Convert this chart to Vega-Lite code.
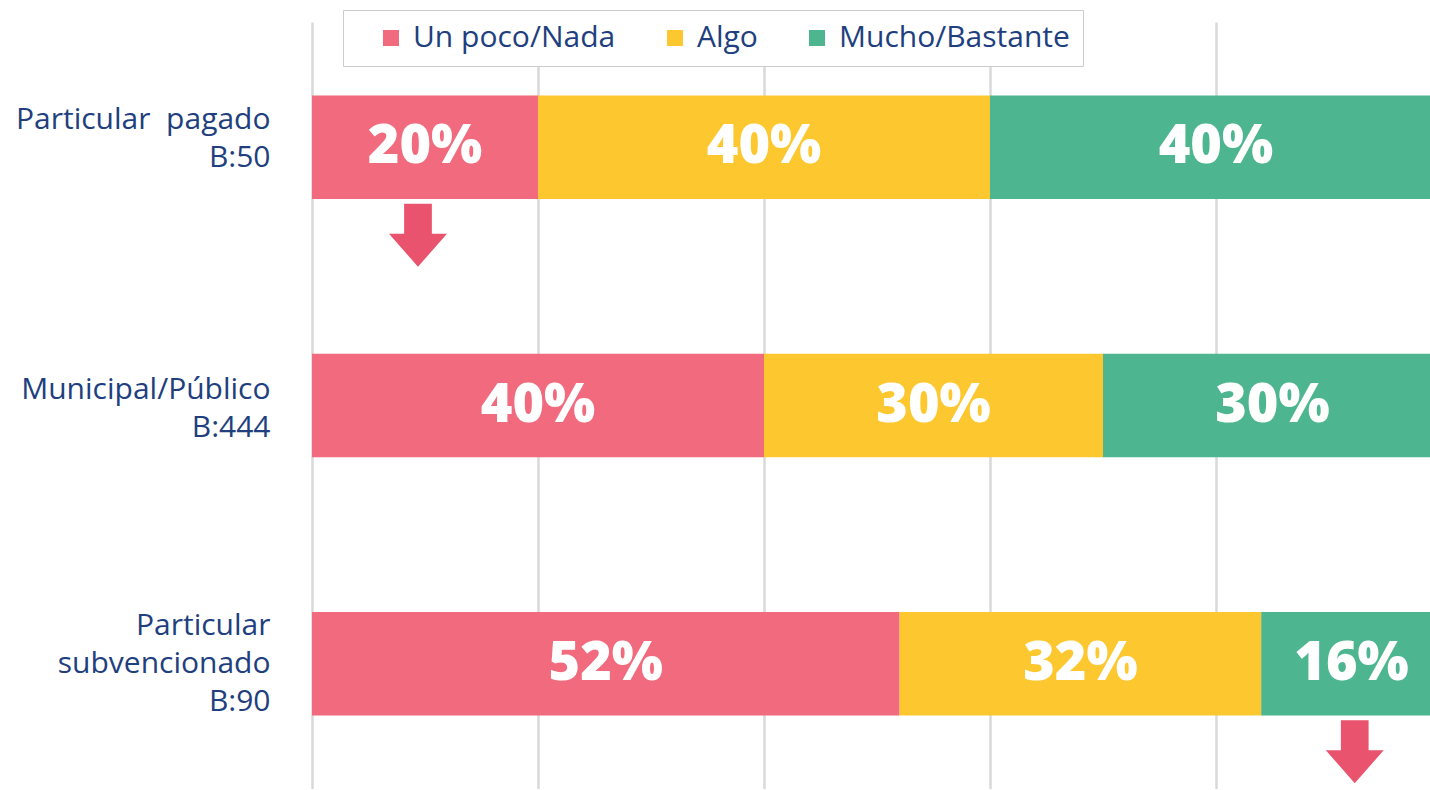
{
  "$schema": "https://vega.github.io/schema/vega-lite/v6.json",
  "width": 1118,
  "height": 767,
  "autosize": {"type": "none"},
  "padding": {"left": 312, "top": 22, "right": 0, "bottom": 0},
  "background": "white",
  "config": {
    "view": {"stroke": null},
    "font": "Open Sans"
  },
  "datasets": {
    "bars": [
      {"cat": "Particular\u00a0 pagado|B:50", "resp": "Un poco/Nada", "o": 1, "value": 0.20},
      {"cat": "Particular\u00a0 pagado|B:50", "resp": "Algo", "o": 2, "value": 0.40},
      {"cat": "Particular\u00a0 pagado|B:50", "resp": "Mucho/Bastante", "o": 3, "value": 0.40},
      {"cat": "Municipal/Público|B:444", "resp": "Un poco/Nada", "o": 1, "value": 0.40},
      {"cat": "Municipal/Público|B:444", "resp": "Algo", "o": 2, "value": 0.30},
      {"cat": "Municipal/Público|B:444", "resp": "Mucho/Bastante", "o": 3, "value": 0.30},
      {"cat": "Particular|subvencionado|B:90", "resp": "Un poco/Nada", "o": 1, "value": 0.52},
      {"cat": "Particular|subvencionado|B:90", "resp": "Algo", "o": 2, "value": 0.32},
      {"cat": "Particular|subvencionado|B:90", "resp": "Mucho/Bastante", "o": 3, "value": 0.16}
    ],
    "arrows": [
      {"cat": "Particular\u00a0 pagado|B:50", "pos": 0.0938},
      {"cat": "Particular|subvencionado|B:90", "pos": 0.9228}
    ]
  },
  "layer": [
    {
      "data": {"name": "bars"},
      "transform": [
        {"stack": "value", "groupby": ["cat"], "sort": [{"field": "o", "order": "ascending"}], "as": ["x0", "x1"]}
      ],
      "mark": {"type": "bar", "clip": true},
      "encoding": {
        "x": {
          "field": "x0", "type": "quantitative",
          "scale": {"domain": [0, 0.9894], "nice": false, "zero": true},
          "axis": {"title": null, "labels": false, "ticks": false, "domain": false, "grid": true, "values": [0, 0.2, 0.4, 0.6, 0.8], "gridColor": "#d9d9d9", "gridWidth": 2.5}
        },
        "x2": {"field": "x1"},
        "y": {
          "field": "cat", "type": "nominal",
          "sort": ["Particular\u00a0 pagado|B:50", "Municipal/Público|B:444", "Particular|subvencionado|B:90"],
          "scale": {"paddingInner": 0.6, "paddingOuter": 0.285},
          "axis": {
            "title": null, "ticks": false, "domain": false, "grid": false,
            "labelExpr": "split(datum.label, '|')",
            "labelFontSize": 30, "labelLineHeight": 38, "labelColor": "#213f7e", "labelPadding": 42, "labelLimit": 400, "labelFont": "Open Sans",
            "labelOffset": {"condition": [
              {"test": "indexof(datum.label, 'subvencionado') >= 0", "value": -38},
              {"test": "indexof(datum.label, 'Municipal') >= 0", "value": -16}
            ], "value": -27}
          }
        },
        "color": {
          "field": "resp", "type": "nominal",
          "scale": {"domain": ["Un poco/Nada", "Algo", "Mucho/Bastante"], "range": ["#f26a7d", "#fdc82f", "#4db690"]},
          "legend": {
            "title": "\u00a0", "titleOrient": "left", "titleFontSize": 30, "titlePadding": 20,
            "orient": "none", "legendX": 31, "legendY": -12, "direction": "horizontal",
            "symbolType": "square", "symbolSize": 256, "symbolStrokeWidth": 0, "symbolOpacity": 1,
            "labelFontSize": 30, "labelColor": "#213f7e", "labelFont": "Open Sans", "labelOffset": 7, "labelLimit": 500,
            "columnPadding": 44, "padding": 13, "strokeColor": "#cccccc", "fillColor": "white"
          }
        }
      }
    },
    {
      "data": {"name": "bars"},
      "transform": [
        {"stack": "value", "groupby": ["cat"], "sort": [{"field": "o", "order": "ascending"}], "as": ["x0", "x1"]},
        {"fold": ["x0", "x1"], "as": ["k", "pos"]}
      ],
      "mark": {"type": "text", "color": "white", "fontSize": 54, "fontWeight": 800, "font": "Open Sans", "baseline": "middle", "align": "center", "clip": true},
      "encoding": {
        "x": {"aggregate": "mean", "field": "pos", "type": "quantitative", "stack": null},
        "y": {"field": "cat", "type": "nominal", "sort": ["Particular\u00a0 pagado|B:50", "Municipal/Público|B:444", "Particular|subvencionado|B:90"]},
        "detail": {"field": "resp", "type": "nominal"},
        "text": {"field": "value", "type": "quantitative", "format": ".0%"}
      }
    },
    {
      "data": {"name": "arrows"},
      "mark": {"type": "point", "shape": "M-0.44,-1L0.44,-1L0.44,-0.05L0.92,-0.05L0,1L-0.92,-0.05L-0.44,-0.05Z", "filled": true, "opacity": 1, "color": "#e9536d", "size": 3969, "yOffset": 88},
      "encoding": {
        "x": {"field": "pos", "type": "quantitative"},
        "y": {"field": "cat", "type": "nominal", "sort": ["Particular\u00a0 pagado|B:50", "Municipal/Público|B:444", "Particular|subvencionado|B:90"]}
      }
    }
  ]
}
